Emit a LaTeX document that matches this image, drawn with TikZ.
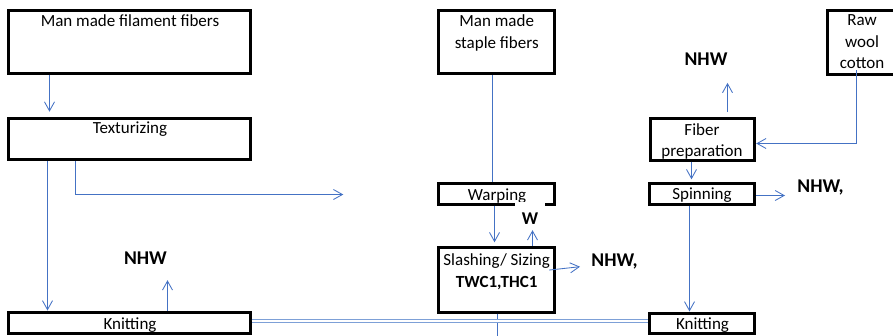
\documentclass[tikz,border=0pt]{standalone}
\usepackage{fontspec}
\setmainfont{Carlito}
\usetikzlibrary{arrows.meta}
\definecolor{lineblue}{RGB}{68,114,196}
\definecolor{bandblue}{RGB}{125,160,215}
\tikzset{
  box/.style={draw=black, line width=3pt, inner sep=0pt},
  txt/.style={inner sep=0pt, font=\fontsize{17}{21.6}\selectfont, align=center},
  lbl/.style={inner sep=0pt, font=\fontsize{19.5}{21}\selectfont\bfseries},
  wlbl/.style={inner sep=0pt, font=\fontsize{18}{21}\selectfont\bfseries},
  conn/.style={draw=lineblue, line width=0.85pt},
  arr/.style={conn, -{Straight Barb[length=9pt,width=10pt,line width=0.85pt]}},
}
\begin{document}
\begin{tikzpicture}[x=1pt,y=-1pt]
\useasboundingbox (0,0) rectangle (893,335);
% boxes
\node[box, minimum width=241.3pt, minimum height=63.5pt] (fil) at (129.35,41.75) {};
\node[box, minimum width=241.3pt, minimum height=41pt] (tex) at (129.35,139) {};
\node[box, minimum width=116pt, minimum height=63.2pt] (stp) at (496.5,41.9) {};
\node[box, minimum width=70pt, minimum height=64pt] (raw) at (862,42) {};
\node[box, minimum width=104.7pt, minimum height=42pt] (fib) at (702.35,139) {};
\node[box, minimum width=116pt, minimum height=20.2pt] (war) at (496.7,193.9) {};
\node[box, minimum width=105pt, minimum height=21.7pt] (spi) at (702.2,193.85) {};
\node[box, minimum width=116pt, minimum height=64.7pt] (sla) at (496.7,279.65) {};
\node[box, minimum width=241.3pt, minimum height=21pt] (knl) at (129.35,322.5) {};
\node[box, minimum width=105pt, minimum height=20pt] (knr) at (702.2,323) {};
% box texts
\node[txt, anchor=base] (filt) at (130,26) {Man made filament fibers};
\node[txt, anchor=base] (text) at (130,133.5) {Texturizing};
\node[txt, anchor=north] (stpt) at (496.7,14.5) {Man made\\staple fibers};
\node[txt, anchor=north] (rawt) at (862,14.5) {Raw\\wool\\cotton};
\node[txt, anchor=north] (fibt) at (702,123) {Fiber\\preparation};
\node[txt, anchor=base] (wart) at (497,200) {Warping};
\node[txt, anchor=base] (spit) at (702,199.5) {Spinning};
\node[txt, anchor=north] (slat) at (496.7,253.5) {Slashing/ Sizing\\\textbf{TWC1,THC1}};
\node[txt, anchor=base] (knlt) at (130,329.5) {Knitting};
\node[txt, anchor=base] (knrt) at (702.5,329.5) {Knitting};
% labels
\node[lbl, anchor=base] (nhw0) at (706,65.7) {NHW};
\node[wlbl, anchor=base, fill=white, inner xsep=6.5pt, text height=22pt] (wlab) at (530,224.3) {W};
\node[lbl, anchor=base] (nhw1) at (145.5,264.3) {NHW};
\node[lbl, anchor=base west] (nhw2) at (591.2,266.7) {NHW,};
\node[lbl, anchor=base west] (nhw3) at (797.2,192.7) {NHW,};
\coordinate (tend) at (343.3,194.5);
\coordinate (send) at (497.5,336);
% connectors
\draw[arr, shorten >=5.3pt] ([xshift=-79.85pt]fil.south) -- ([xshift=-79.85pt]tex.north);
\draw[arr] ([xshift=-81.85pt]tex.south) -- ([xshift=-81.85pt]knl.north);
\draw[arr] ([xshift=-53.85pt]tex.south) |- (tend);
\draw[conn] ([xshift=-4pt]stp.south) -- ([xshift=-4pt]stp.south |- war.north);
\draw[arr, shorten >=3.5pt] ([xshift=-2.2pt]war.south) -- ([xshift=-2.2pt]war.south |- sla.north);
\draw[arr, shorten >=5.7pt] ([xshift=35.8pt]sla.north) -- ([xshift=35.8pt]sla.north |- wlab.south);
\draw[arr] ([xshift=-7pt,yshift=9.6pt]sla.east) -- ([xshift=-11.2pt]nhw2.base west);
\draw[conn] ([xshift=0.8pt]sla.south) -- (send);
\draw[draw=bandblue, double=white, double distance=1.1pt, line width=1.3pt] ([yshift=1.5pt]knl.east) -- ([yshift=1.5pt]knl.east -| knr.west);
\draw[arr, shorten >=15.7pt] ([xshift=38.15pt]knl.north) -- ([xshift=38.15pt]knl.north |- nhw1.south);
\draw[arr, shorten >=12.2pt] ([yshift=-1.65pt]spi.east) -- ([yshift=-1.65pt]spi.east -| nhw3.west);
\draw[arr] ([xshift=-12.7pt]spi.south) -- ([xshift=-12.7pt]spi.south |- knr.north);
\draw[arr, shorten >=2.2pt] ([xshift=-10.85pt]fib.south) -- ([xshift=-10.85pt]fib.south |- spi.north);
\draw[arr, shorten <=4.8pt, shorten >=17pt] ([xshift=25.15pt]fib.north) -- ([xshift=25.15pt]fib.north |- nhw0.south);
\draw[arr] ([xshift=-5.5pt,yshift=5.5pt]raw.south) |- ([yshift=-4.5pt]fib.east);
\end{tikzpicture}
\end{document}
